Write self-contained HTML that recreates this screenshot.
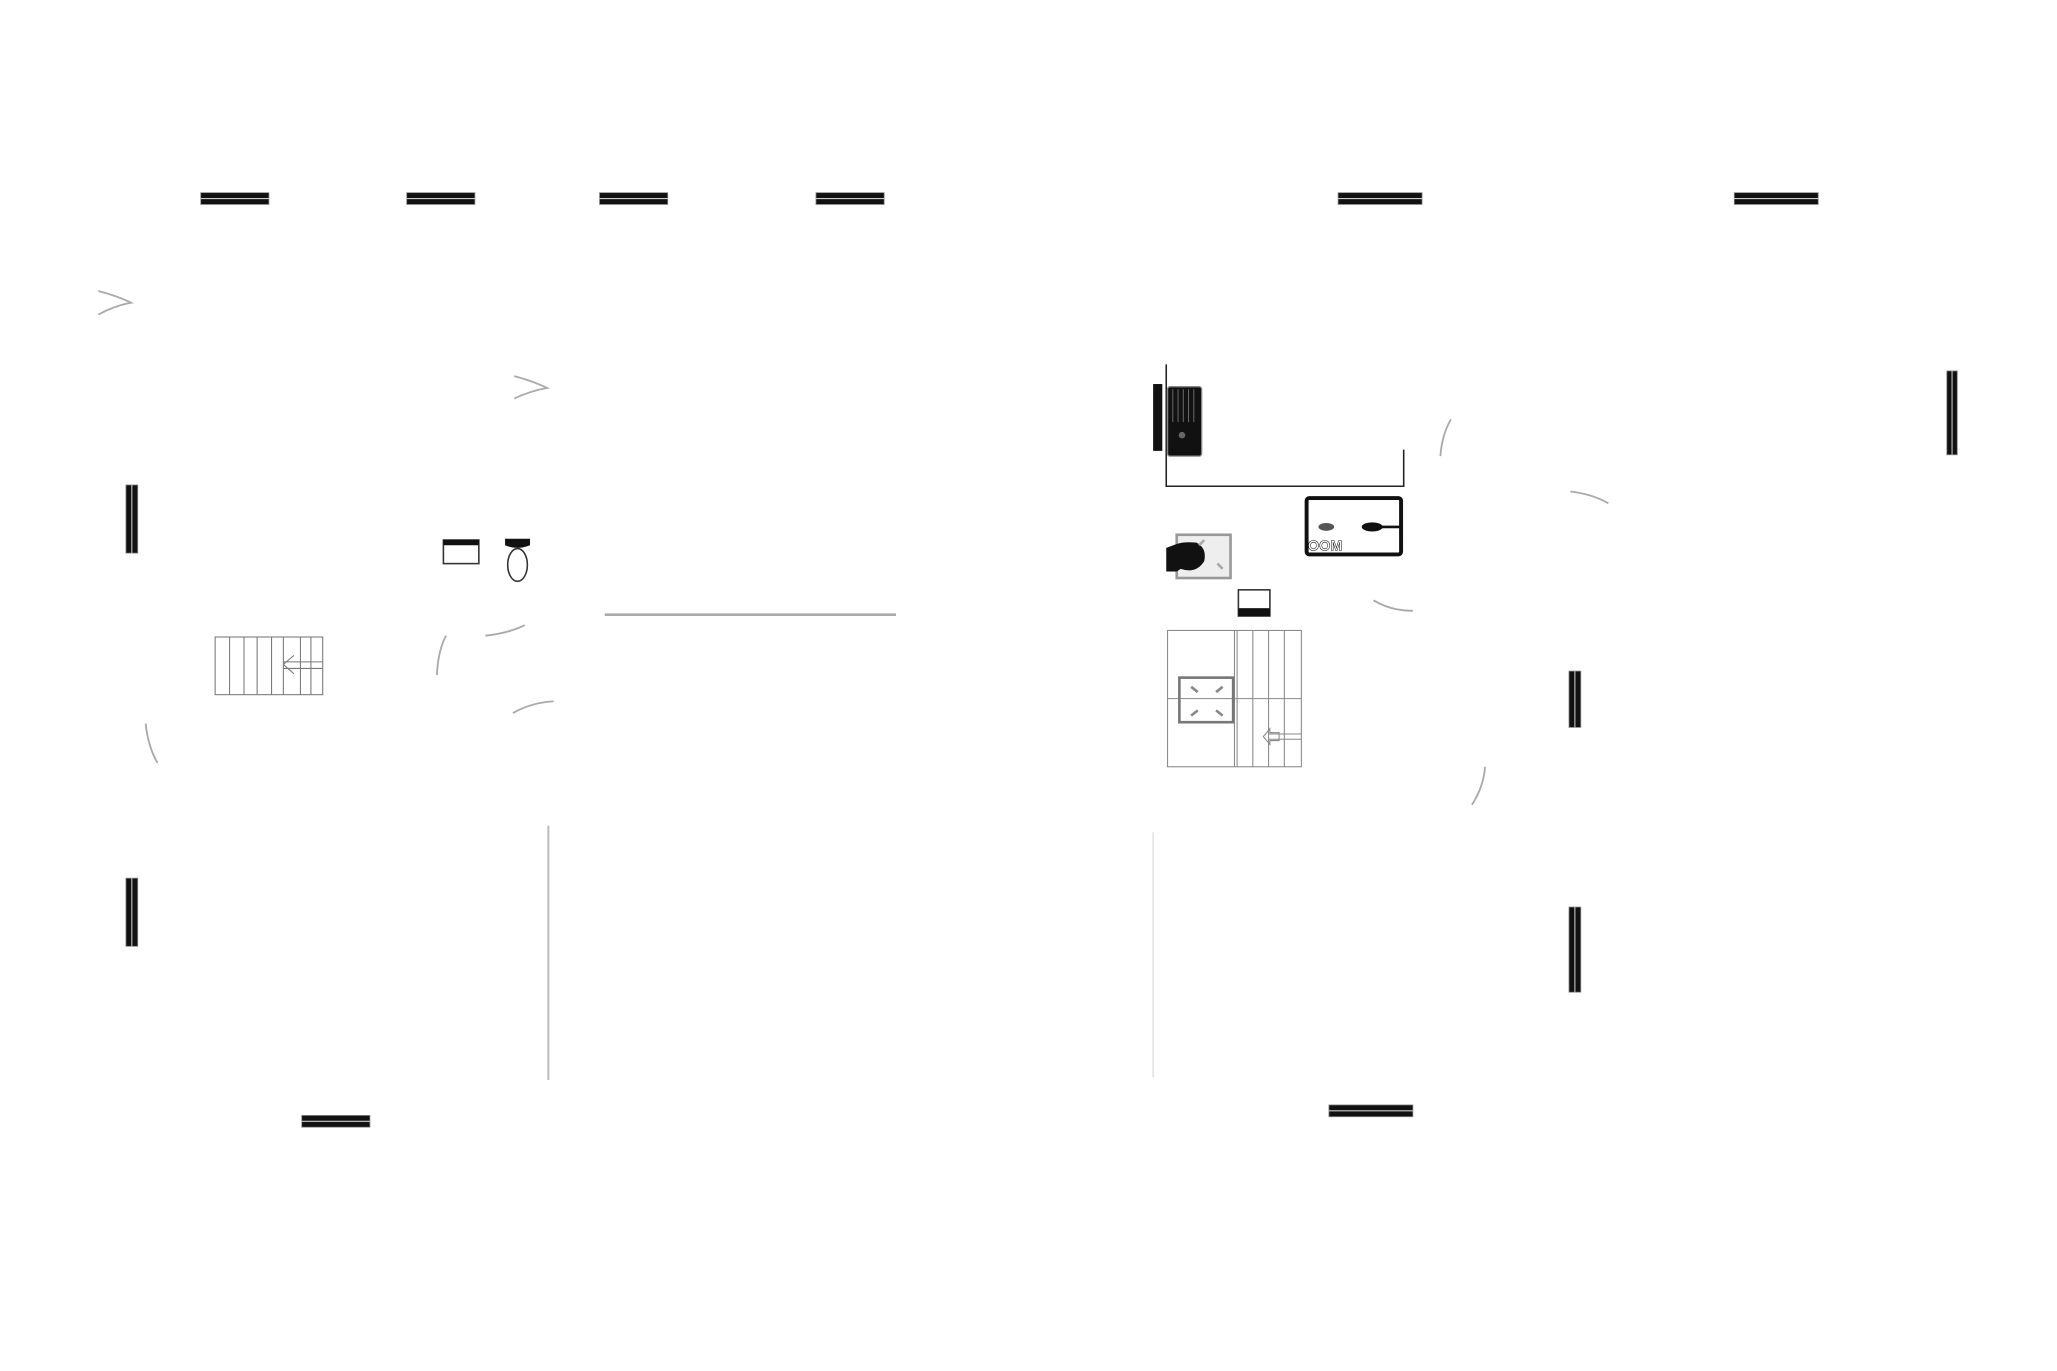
<!DOCTYPE html>
<html><head><meta charset="utf-8"><style>html,body{margin:0;padding:0;background:#fff;}svg{display:block;}</style></head>
<body>
<svg width="2057" height="1371" viewBox="0 0 1568 1046" preserveAspectRatio="none" xmlns="http://www.w3.org/2000/svg">
<defs>
<g id="hb"><rect x="0" y="0" width="52" height="9" fill="#111" stroke="#888" stroke-width="0.6"/><line x1="0" y1="4.5" x2="52" y2="4.5" stroke="#ccc" stroke-width="0.8"/></g>
<g id="hb2"><rect x="0" y="0" width="64" height="9" fill="#111" stroke="#888" stroke-width="0.6"/><line x1="0" y1="4.5" x2="64" y2="4.5" stroke="#ccc" stroke-width="0.8"/></g>
</defs>
<use href="#hb" x="153" y="147"/>
<use href="#hb" x="310" y="147"/>
<use href="#hb" x="457" y="147"/>
<use href="#hb" x="622" y="147"/>
<use href="#hb2" x="1020" y="147"/>
<use href="#hb2" x="1322" y="147"/>
<use href="#hb" x="230" y="851"/>
<use href="#hb2" x="1013" y="843"/>
<g fill="#111" stroke="#888" stroke-width="0.6">
<rect x="96" y="370" width="9" height="52"/>
<rect x="96" y="670" width="9" height="52"/>
<rect x="1484" y="283" width="8" height="64"/>
<rect x="1196" y="512" width="9" height="43"/>
<rect x="1196" y="692" width="9" height="65"/>
</g>
<g stroke="#ccc" stroke-width="0.8">
<line x1="100.5" y1="370" x2="100.5" y2="422"/><line x1="100.5" y1="670" x2="100.5" y2="722"/>
<line x1="1488" y1="283" x2="1488" y2="347"/><line x1="1200.5" y1="512" x2="1200.5" y2="555"/><line x1="1200.5" y1="692" x2="1200.5" y2="757"/>
</g>
<g fill="none" stroke="#aaa" stroke-width="1.4">
<path d="M75 222 Q90 226 100 231 Q88 233 75 240"/>
<path d="M392 287 Q407 291 417 296 Q405 298 392 304"/>
<path d="M370 485 Q388 483 400 477"/>
<path d="M333 515 Q334 496 340 485"/>
<path d="M391 544 Q405 536 422 535"/>
<path d="M111 552 Q113 570 120 582"/>
<path d="M1098 348 Q1099 332 1106 320"/>
<path d="M1197 375 Q1214 377 1226 384"/>
<path d="M1047 458 Q1060 466 1077 466"/>
<path d="M1122 614 Q1131 600 1132 585"/>
</g>
<line x1="461" y1="469" x2="683" y2="469" stroke="#aaa" stroke-width="2"/>
<line x1="418" y1="630" x2="418" y2="824" stroke="#bbb" stroke-width="1.5"/>
<line x1="879" y1="635" x2="879" y2="822" stroke="#ddd" stroke-width="1"/>
<rect x="338" y="412" width="27" height="18" fill="#fff" stroke="#333" stroke-width="1.2"/>
<rect x="338" y="412" width="27" height="4" fill="#111"/>
<path d="M385 411 H404 V416 Q394 420 385 416 Z" fill="#111"/>
<ellipse cx="394.5" cy="431" rx="7.5" ry="12.5" fill="#fff" stroke="#333" stroke-width="1.2"/>
<g fill="none" stroke="#777" stroke-width="0.8">
<rect x="164" y="486" width="82" height="44"/>
<line x1="175" y1="486" x2="175" y2="530"/><line x1="186" y1="486" x2="186" y2="530"/><line x1="196" y1="486" x2="196" y2="530"/>
<line x1="207" y1="486" x2="207" y2="530"/><line x1="216" y1="486" x2="216" y2="530"/><line x1="229" y1="486" x2="229" y2="530"/><line x1="237" y1="486" x2="237" y2="530"/>
<line x1="216" y1="505" x2="246" y2="505"/><line x1="216" y1="510" x2="246" y2="510"/>
<path d="M216 507 L224 500 M216 507 L224 514"/>
</g>
<polyline points="889,278 889,371 1070,371 1070,343" fill="none" stroke="#222" stroke-width="1.2"/>
<rect x="879" y="293" width="7" height="51" fill="#111"/>
<rect x="890" y="295" width="26" height="53" rx="2" fill="#111" stroke="#888" stroke-width="1"/>
<g stroke="#666" stroke-width="0.8"><line x1="894" y1="297" x2="894" y2="322"/><line x1="898" y1="297" x2="898" y2="322"/><line x1="902" y1="297" x2="902" y2="322"/><line x1="906" y1="297" x2="906" y2="322"/><line x1="910" y1="297" x2="910" y2="322"/></g>
<circle cx="901" cy="332" r="2.5" fill="#666"/>
<rect x="996" y="380" width="72" height="43" rx="2" fill="#fff" stroke="#111" stroke-width="3"/>
<ellipse cx="1011" cy="402" rx="6" ry="3" fill="#555"/>
<ellipse cx="1046" cy="402" rx="8" ry="3.5" fill="#111"/>
<line x1="1050" y1="402" x2="1068" y2="402" stroke="#111" stroke-width="2"/>
<text x="997" y="420" font-family="Liberation Sans, sans-serif" font-size="11" font-weight="bold" fill="#fff" stroke="#111" stroke-width="0.4">OOM</text>
<rect x="897" y="408" width="41" height="33" fill="#eee" stroke="#999" stroke-width="2"/>
<path d="M889 418 L897 415 Q903 413 912 414 Q920 418 918 428 Q912 438 900 434 L897 436 L889 436 Z" fill="#111"/>
<g stroke="#aaa" stroke-width="2"><line x1="914" y1="416" x2="918" y2="412"/><line x1="928" y1="430" x2="932" y2="434"/></g>
<rect x="944" y="450" width="24" height="20" fill="#fff" stroke="#333" stroke-width="1.2"/>
<rect x="944" y="464" width="24" height="6" fill="#111"/>
<g fill="none" stroke="#888" stroke-width="0.8">
<rect x="890" y="481" width="102" height="104"/>
<line x1="941" y1="481" x2="941" y2="585"/><line x1="943" y1="481" x2="943" y2="585"/>
<line x1="955" y1="481" x2="955" y2="585"/><line x1="967" y1="481" x2="967" y2="585"/><line x1="979" y1="481" x2="979" y2="585"/>
<line x1="890" y1="533" x2="992" y2="533"/>
<line x1="967" y1="560" x2="992" y2="560"/><line x1="967" y1="564" x2="992" y2="564"/>
<path d="M963 562 L968 556 V559 H975 V565 H968 V568 Z"/>
</g>
<rect x="899" y="517" width="41" height="34" fill="none" stroke="#777" stroke-width="2"/>
<g stroke="#888" stroke-width="2"><line x1="908" y1="524" x2="913" y2="528"/><line x1="932" y1="524" x2="927" y2="528"/><line x1="908" y1="546" x2="913" y2="542"/><line x1="932" y1="546" x2="927" y2="542"/></g>
</svg>
</body></html>
